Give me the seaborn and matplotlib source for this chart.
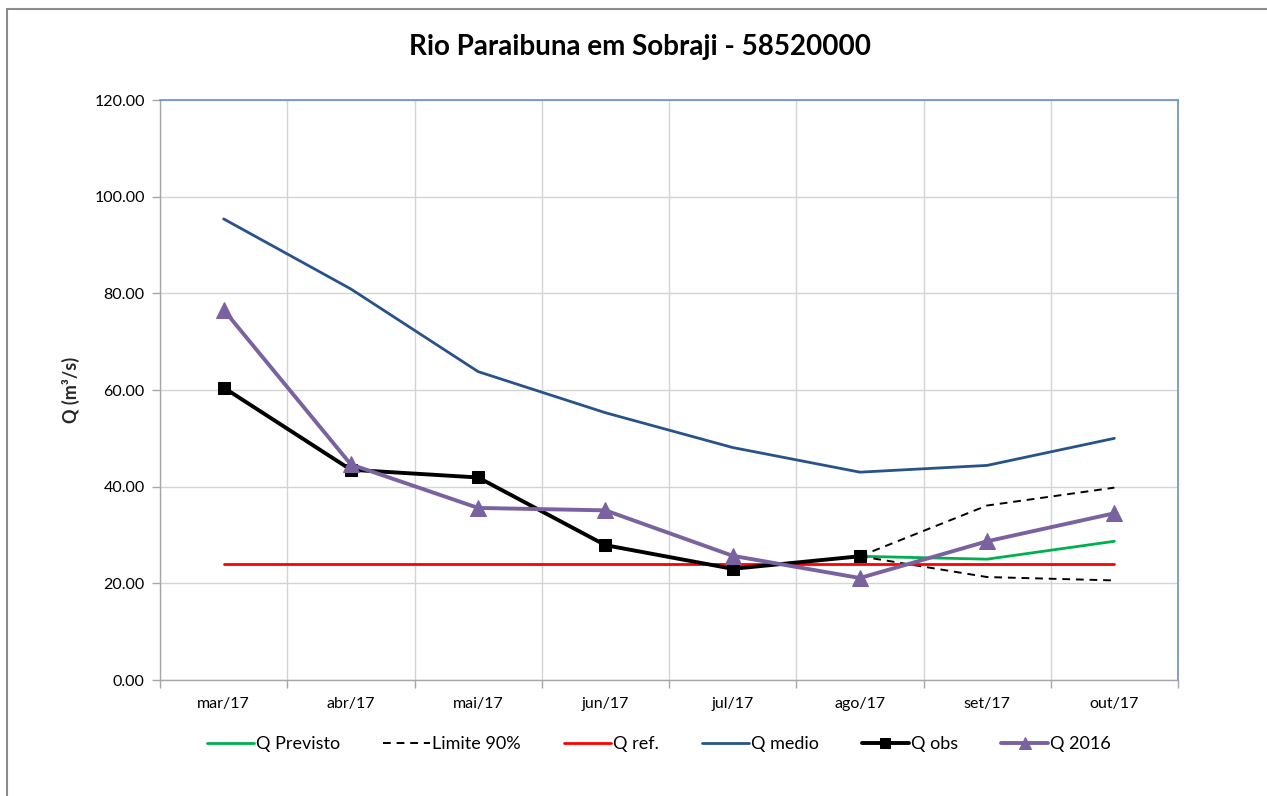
import matplotlib
matplotlib.use("Agg")
import matplotlib.pyplot as plt
from matplotlib.lines import Line2D
import seaborn as sns
import numpy as np

# Monthly discharge series (m³/s)
months = ["mar/17", "abr/17", "mai/17", "jun/17", "jul/17", "ago/17", "set/17", "out/17"]
q_medio = [95.4, 80.9, 63.8, 55.3, 48.1, 43.0, 44.4, 50.0]
q_obs = [60.5, 43.5, 41.9, 27.9, 23.0, 25.6]
q_2016 = [76.6, 44.6, 35.6, 35.1, 25.7, 21.1, 28.7, 34.5]
q_ref = [24.1] * 8
q_previsto = [25.6, 25.0, 28.7]
limite_sup = [25.6, 36.1, 39.8]
limite_inf = [25.6, 21.3, 20.6]
forecast_months = ["ago/17", "set/17", "out/17"]
y_ticks = [0, 20, 40, 60, 80, 100, 120]

sns.set_theme(style="white")
plt.rcParams["font.family"] = ["Lato", "DejaVu Sans"]
plt.rcParams["text.color"] = "black"
plt.rcParams["xtick.color"] = "black"
plt.rcParams["ytick.color"] = "black"

fig = plt.figure(figsize=(12.67, 7.96), dpi=100)
ax = fig.add_axes([160 / 1267, 1 - 680 / 796, (1178 - 160) / 1267, (680 - 100) / 796])

pos = {m: i for i, m in enumerate(months)}
x_all = np.arange(len(months))
x_obs = x_all[:len(q_obs)]
x_fc = [pos[m] for m in forecast_months]

sns.lineplot(x=x_fc, y=q_previsto, ax=ax, color="#00b050", lw=2.0, label="Q Previsto")
sns.lineplot(x=x_fc, y=limite_sup, ax=ax, color="black", lw=1.4, ls=(0, (4, 3)), label="Limite 90%")
sns.lineplot(x=x_fc, y=limite_inf, ax=ax, color="black", lw=1.4, ls=(0, (4, 3)), label="_nolegend_")
sns.lineplot(x=x_all, y=q_ref, ax=ax, color="#ff0000", lw=2.0, label="Q ref.")
sns.lineplot(x=x_all, y=q_medio, ax=ax, color="#27538a", lw=2.0, label="Q medio")
sns.lineplot(x=x_obs, y=q_obs, ax=ax, color="black", lw=2.8, marker="s", markersize=9,
             markeredgecolor="black", label="Q obs")
sns.lineplot(x=x_all, y=q_2016, ax=ax, color="#7a62a0", lw=2.8, marker="^", markersize=11,
             markeredgecolor="#7a62a0", label="Q 2016")

ax.set_xlim(-0.5, len(months) - 0.5)
ax.set_ylim(0, 120)
ax.set_yticks(y_ticks)
ax.set_yticklabels([f"{v:.2f}" for v in y_ticks], fontsize=11.5)
ax.set_xticks(x_all)
ax.set_xticklabels(months, fontsize=11.5)
ax.set_xticks(np.arange(-0.5, len(months)), minor=True)

grid_c = "#d4d4d4"
ax.grid(False)
ax.yaxis.grid(True, color=grid_c, lw=1.0)
ax.xaxis.grid(True, which="minor", color=grid_c, lw=1.0)
ax.set_axisbelow(True)

ax.tick_params(axis="x", which="major", length=0, pad=12)
ax.tick_params(axis="x", which="minor", length=6, color="#a6a6a6", width=1, direction="out", bottom=True)
ax.tick_params(axis="y", length=6, color="#a6a6a6", width=1, direction="out", left=True, pad=5)

for side in ("left", "bottom"):
    ax.spines[side].set_color("#a6a6a6")
    ax.spines[side].set_linewidth(1.0)
for side in ("top", "right"):
    ax.spines[side].set_color("#6a8fc4")
    ax.spines[side].set_linewidth(1.2)

ax.set_xlabel("")
ax.set_ylabel("Q (m³/s)", fontsize=13, fontweight="bold", labelpad=10)

fig.suptitle("Rio Paraibuna em Sobraji - 58520000", x=0.505, y=1 - 47 / 796,
             va="center", fontsize=20, fontweight="bold")

handles, labels = ax.get_legend_handles_labels()
ax.legend_.remove()
fig.legend(handles, labels, loc="center", bbox_to_anchor=(0.52, 1 - 744 / 796), ncol=6,
           frameon=False, fontsize=13, handlelength=2.6, handletextpad=0.1, columnspacing=2.4,
           markerscale=0.8)

# outer chart frame
fig.add_artist(Line2D([7 / 1267, 7 / 1267], [0, 1 - 9 / 796], transform=fig.transFigure,
                      color="#8c8c8c", lw=1.5))
fig.add_artist(Line2D([7 / 1267, 1], [1 - 9 / 796, 1 - 9 / 796], transform=fig.transFigure,
                      color="#8c8c8c", lw=1.5))

fig.savefig("out.png", dpi=100, facecolor="white")
